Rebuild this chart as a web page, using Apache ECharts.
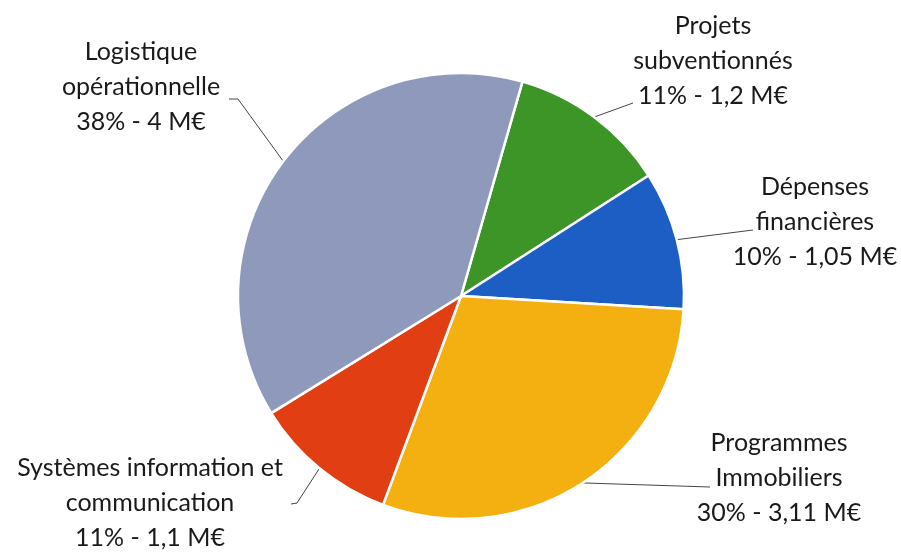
<!DOCTYPE html>
<html>
<head>
<meta charset="utf-8">
<script src="https://cdn.jsdelivr.net/npm/echarts@6/dist/echarts.min.js"></script>
<style>
  html, body { margin: 0; background: #fff; }
  #chart { width: 901px; height: 552px; }
</style>
</head>
<body>
<div id="chart"></div>
<script>
// données du graphique (M€)
const categories = [
  'Projets\nsubventionnés',
  'Dépenses\nfinancières',
  'Programmes\nImmobiliers',
  'Systèmes information et\ncommunication',
  'Logistique\nopérationnelle'
];
const values = [1.2, 1.05, 3.11, 1.1, 4];

const sliceColors = ['#3c9526', '#1c5ec4', '#f4b010', '#e23e14', '#8f99bb'];
// centre des étiquettes (px)
const labelSpots = [[713, 61], [815, 222], [779, 478], [150, 503], [141, 87]];
// fin des traits de rappel (px), le départ vient du bord du camembert
const guideEnds = [
  [[633, 103]],
  [[753, 230]],
  [[710, 487]],
  [[297, 503], [291, 504]],
  [[238, 99], [229, 99]]
];

const chart = echarts.init(document.getElementById('chart'));

const option = {
  animation: false,
  backgroundColor: '#fff',
  series: [
    {
      type: 'pie',
      center: [461, 296],
      radius: 223,
      startAngle: 74,
      clockwise: true,
      itemStyle: {
        borderColor: '#fff',
        borderWidth: 2.5
      },
      label: {
        show: true,
        position: 'outside',
        fontFamily: 'Lato',
        fontSize: 25,
        lineHeight: 35,
        color: '#1a1a1a',
        align: 'center',
        formatter: function (p) {
          const v = String(p.value).replace('.', ',');
          return p.name + '\n' + Math.round(p.percent) + '% - ' + v + ' M€';
        }
      },
      labelLine: {
        show: true,
        length: 15,
        length2: 10,
        lineStyle: { color: '#444', width: 1 }
      },
      labelLayout: function (params) {
        const i = params.dataIndex;
        const s = labelSpots[i];
        const start = params.labelLinePoints ? params.labelLinePoints[0] : null;
        const out = { x: s[0], y: s[1], align: 'center', verticalAlign: 'middle' };
        if (start) {
          out.labelLinePoints = [start].concat(guideEnds[i]);
        }
        return out;
      },
      data: categories.map((name, i) => ({
        name: name,
        value: values[i],
        itemStyle: { color: sliceColors[i] }
      }))
    }
  ]
};

chart.setOption(option);
</script>
</body>
</html>
